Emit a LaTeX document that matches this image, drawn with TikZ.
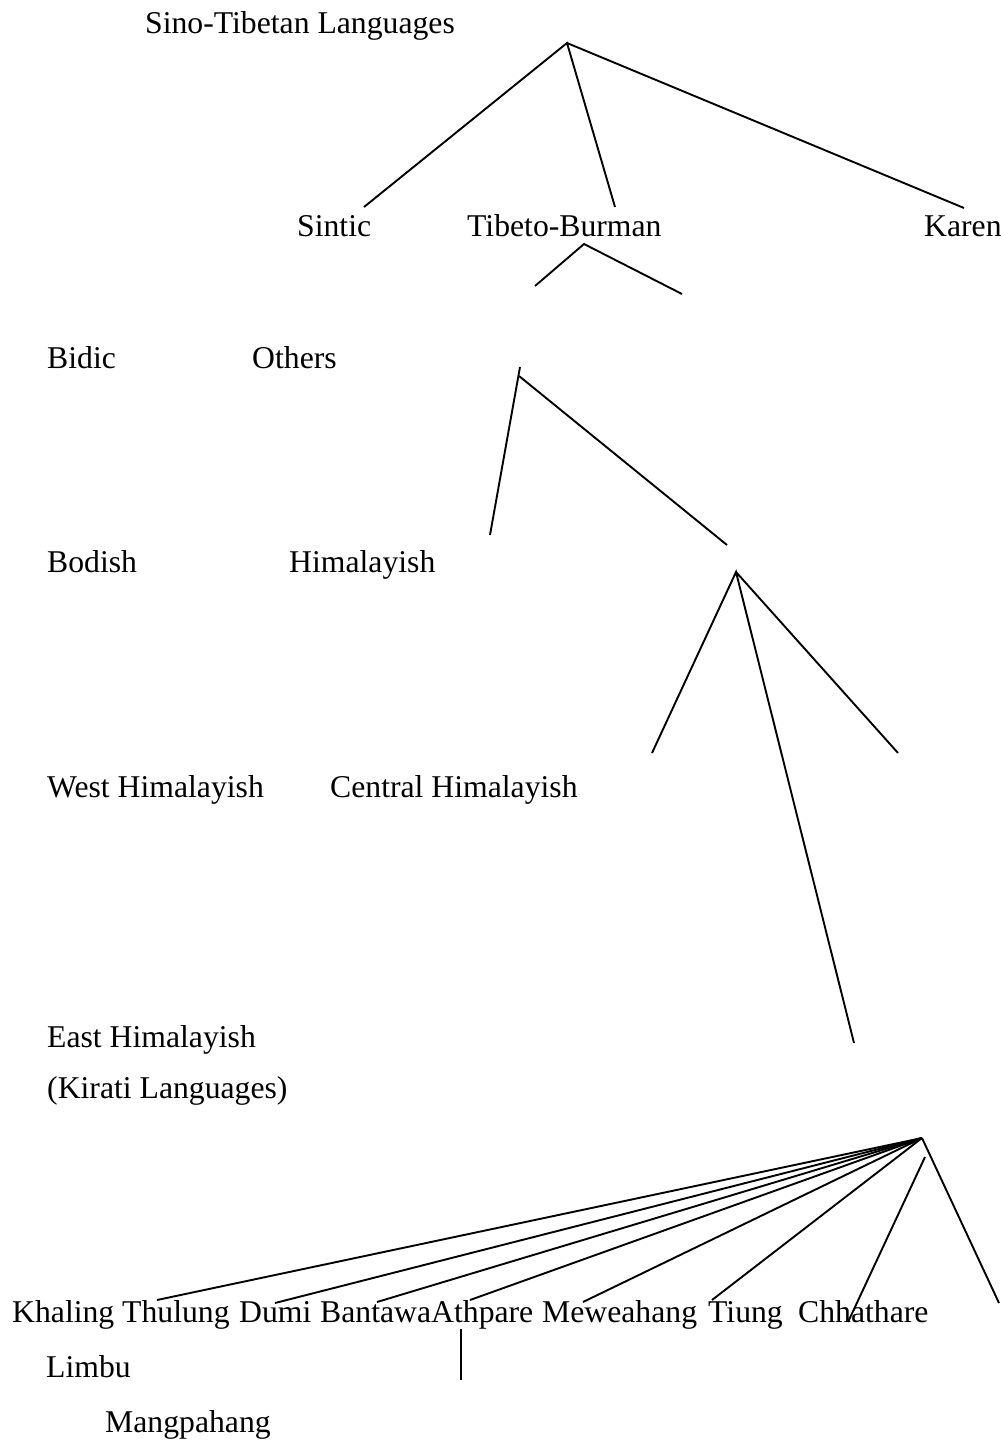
\documentclass[tikz,border=0pt]{standalone}
\usepackage{fontspec}
\setmainfont{Liberation Serif}
\begin{document}
\begin{tikzpicture}[x=1pt,y=-1pt,
  lbl/.style={anchor=base west,inner sep=0pt,font=\fontsize{31.7}{38}\selectfont},
  branch/.style={line width=1.9pt,line cap=butt}]
\useasboundingbox (0,0) rectangle (1001,1443);

% family labels
\node[lbl] (sinotib) at (145,33) {Sino-Tibetan Languages};
\node[lbl] (sintic) at (297,236) {Sintic};
\node[lbl] (tibbur) at (467,236) {Tibeto-Burman};
\node[lbl] (karen) at (924,236) {Karen};
\node[lbl] (bidic) at (47,368) {Bidic};
\node[lbl] (others) at (252,368) {Others};
\node[lbl] (bodish) at (47,572) {Bodish};
\node[lbl] (himal) at (289,572) {Himalayish};
\node[lbl] (westh) at (47,797) {West Himalayish};
\node[lbl] (centh) at (330,797) {Central Himalayish};
\node[lbl] (easth) at (47,1047) {East Himalayish};
\node[lbl] (kirati) at (47,1098) {(Kirati Languages)};

% Kirati languages
\node[lbl] (khaling) at (12,1322) {Khaling};
\node[lbl] (thulung) at (122,1322) {Thulung};
\node[lbl] (dumi) at (239,1322) {Dumi};
\node[lbl] (bantawa) at (320,1322) {Bantawa};
\node[lbl] (athpare) at (431,1322) {Athpare};
\node[lbl] (meweahang) at (542,1322) {Meweahang};
\node[lbl] (tiung) at (708,1322) {Tiung};
\node[lbl] (chhathare) at (798,1322) {Chhathare};
\node[lbl] (limbu) at (46,1377) {Limbu};
\node[lbl] (mangpahang) at (105,1432) {Mangpahang};

% branch points and line ends
\coordinate (stTop) at (567,43);
\coordinate (stA) at (364,207);
\coordinate (stB) at (615,207);
\coordinate (stC) at (964,208);

\coordinate (tbTop) at (584,244);
\coordinate (tbA) at (535,286);
\coordinate (tbB) at (682,294);

\coordinate (obTopA) at (520,367);
\coordinate (obA) at (490,535);
\coordinate (obTopB) at (519,376);
\coordinate (obB) at (727,545);

\coordinate (hmTop) at (736,572);
\coordinate (hmA) at (652,753);
\coordinate (hmB) at (854,1043);
\coordinate (hmC) at (898,753);

\coordinate (khTop) at (922,1138);
\coordinate (kh1) at (157,1300);
\coordinate (kh2) at (275,1303);
\coordinate (kh3) at (377,1302);
\coordinate (kh4) at (470,1300);
\coordinate (kh5) at (583,1302);
\coordinate (kh6) at (712,1300);
\coordinate (kh7) at (999,1303);
\coordinate (chTop) at (925,1157);
\coordinate (chEnd) at (848,1322);

\coordinate (lbTop) at (461,1329);
\coordinate (lbEnd) at (461,1380);

% tree lines
\draw[branch] (stA) -- (stTop) -- (stB) (stTop) -- (stC);
\draw[branch] (tbA) -- (tbTop) -- (tbB);
\draw[branch] (obTopA) -- (obA);
\draw[branch] (obTopB) -- (obB);
\draw[branch] (hmA) -- (hmTop) -- (hmB) (hmTop) -- (hmC);
\foreach \e in {kh1,kh2,kh3,kh4,kh5,kh6,kh7}
  \draw[branch] (khTop) -- (\e);
\draw[branch] (chTop) -- (chEnd);
\draw[branch] (lbTop) -- (lbEnd);
\end{tikzpicture}
\end{document}
